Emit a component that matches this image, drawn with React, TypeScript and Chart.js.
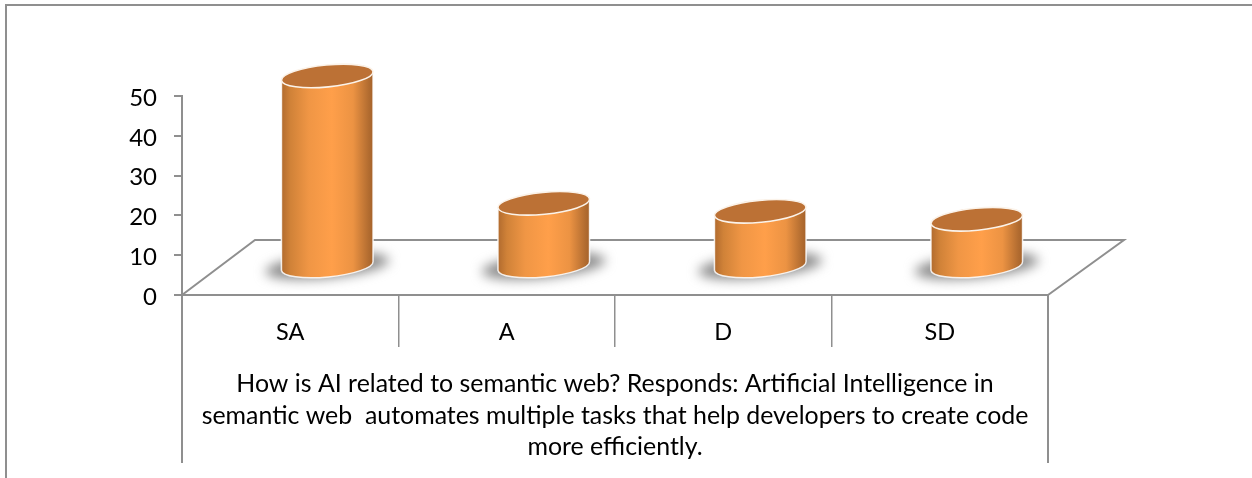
import { useEffect, useRef } from "react";
import { Chart, registerables } from "chart.js";

Chart.register(...registerables);

const categories = ["SA", "A", "D", "SD"];
const responses = [48, 16, 14, 12];
const yMin = 0;
const yMax = 50;
const yStep = 10;
const axisTitleLines = [
  "How is AI related to semantic web? Responds: Artificial Intelligence in",
  "semantic web  automates multiple tasks that help developers to create code",
  "more efficiently.",
];

const FONT = "Lato";
const GREY = "#8f8f8f";
const DEPTH_X = 37;
const DEPTH_Y = 28;
const TILT = (-5.5 * Math.PI) / 180;

const cylinderPlugin = {
  id: "cylinders",
  beforeDraw(chart: any) {
    const { ctx, width, height } = chart;
    ctx.save();
    ctx.strokeStyle = GREY;
    ctx.lineWidth = 2;
    ctx.beginPath();
    ctx.moveTo(6, height);
    ctx.lineTo(6, 5);
    ctx.lineTo(width, 5);
    ctx.stroke();
    ctx.restore();
  },
  beforeDatasetsDraw(chart: any) {
    const { ctx, chartArea } = chart;
    const { left, right, bottom } = chartArea;
    ctx.save();
    ctx.strokeStyle = GREY;
    ctx.lineWidth = 2;
    ctx.beginPath();
    ctx.moveTo(left, bottom);
    ctx.lineTo(left + 73, bottom - 55);
    ctx.lineTo(right + 76, bottom - 55);
    ctx.lineTo(right, bottom);
    ctx.stroke();
    ctx.beginPath();
    ctx.moveTo(left, bottom);
    ctx.lineTo(left, 463);
    ctx.moveTo(right, bottom);
    ctx.lineTo(right, 463);
    ctx.stroke();
    ctx.restore();
  },
  afterDatasetsDraw(chart: any) {
    const { ctx } = chart;
    const meta = chart.getDatasetMeta(0);
    meta.data.forEach((bar: any) => {
      const cx = bar.x + DEPTH_X;
      const topY = bar.y - DEPTH_Y;
      const baseY = bar.base - DEPTH_Y;
      const rx = bar.width / 2;
      const ry = 11;
      ctx.save();
      // soft floor shadow
      ctx.save();
      ctx.filter = "blur(6px)";
      ctx.fillStyle = "#8a8a8a";
      ctx.beginPath();
      ctx.ellipse(cx, baseY, rx + 16, ry + 1, TILT, 0, Math.PI * 2);
      ctx.fill();
      ctx.restore();
      // body
      const grad = ctx.createLinearGradient(cx - rx, 0, cx + rx, 0);
      grad.addColorStop(0, "#B06A2E");
      grad.addColorStop(0.1, "#D08238");
      grad.addColorStop(0.3, "#F09645");
      grad.addColorStop(0.55, "#FF9F4A");
      grad.addColorStop(0.78, "#EC9343");
      grad.addColorStop(0.95, "#B26C30");
      grad.addColorStop(1, "#A5622A");
      ctx.beginPath();
      ctx.ellipse(cx, baseY, rx, ry, TILT, Math.PI, 0, true);
      ctx.ellipse(cx, topY, rx, ry, TILT, 0, Math.PI, true);
      ctx.closePath();
      ctx.fillStyle = grad;
      ctx.fill();
      ctx.strokeStyle = "rgba(255,255,255,0.85)";
      ctx.lineWidth = 1.5;
      ctx.stroke();
      // top cap
      ctx.beginPath();
      ctx.ellipse(cx, topY, rx, ry, TILT, 0, Math.PI * 2);
      ctx.fillStyle = "#BC7135";
      ctx.fill();
      ctx.strokeStyle = "#FBF3EA";
      ctx.lineWidth = 1.6;
      ctx.stroke();
      ctx.restore();
    });
  },
};

export default function App() {
  const ref = useRef<HTMLCanvasElement>(null);

  useEffect(() => {
    document.body.style.margin = "0";
    const chart = new Chart(ref.current!, {
      type: "bar",
      data: {
        labels: categories,
        datasets: [
          {
            data: responses,
            backgroundColor: "rgba(0,0,0,0)",
            borderWidth: 0,
            categoryPercentage: 1,
            barPercentage: 0.425,
          },
        ],
      },
      plugins: [cylinderPlugin],
      options: {
        responsive: false,
        animation: false,
        layout: { padding: { top: 96, right: 204, left: 0, bottom: 0 } },
        plugins: { legend: { display: false }, tooltip: { enabled: false } },
        scales: {
          x: {
            afterFit: (s: any) => {
              s.height = 183;
            },
            border: { color: GREY, width: 2 },
            grid: {
              offset: true,
              drawOnChartArea: false,
              color: GREY,
              lineWidth: 1.5,
              tickLength: 52,
            },
            ticks: {
              color: "#000",
              padding: -29,
              maxRotation: 0,
              font: { family: FONT, size: 23.5 },
            },
            title: {
              display: true,
              text: axisTitleLines,
              color: "#000",
              font: { family: FONT, size: 24.9, lineHeight: 1.27 },
              padding: { top: 0, bottom: 15 },
            },
          },
          y: {
            min: yMin,
            max: yMax,
            afterFit: (s: any) => {
              s.width = 182;
            },
            border: { color: GREY, width: 2 },
            grid: {
              drawOnChartArea: false,
              color: GREY,
              lineWidth: 2,
              tickLength: 8,
            },
            ticks: {
              stepSize: yStep,
              color: "#000",
              padding: 17,
              labelOffset: 2,
              font: { family: FONT, size: 24 },
            },
          },
        },
      },
    } as any);
    return () => chart.destroy();
  }, []);

  return (
    <canvas
      ref={ref}
      width={1252}
      height={478}
      style={{ display: "block", position: "absolute", left: 0, top: 0 }}
    />
  );
}
